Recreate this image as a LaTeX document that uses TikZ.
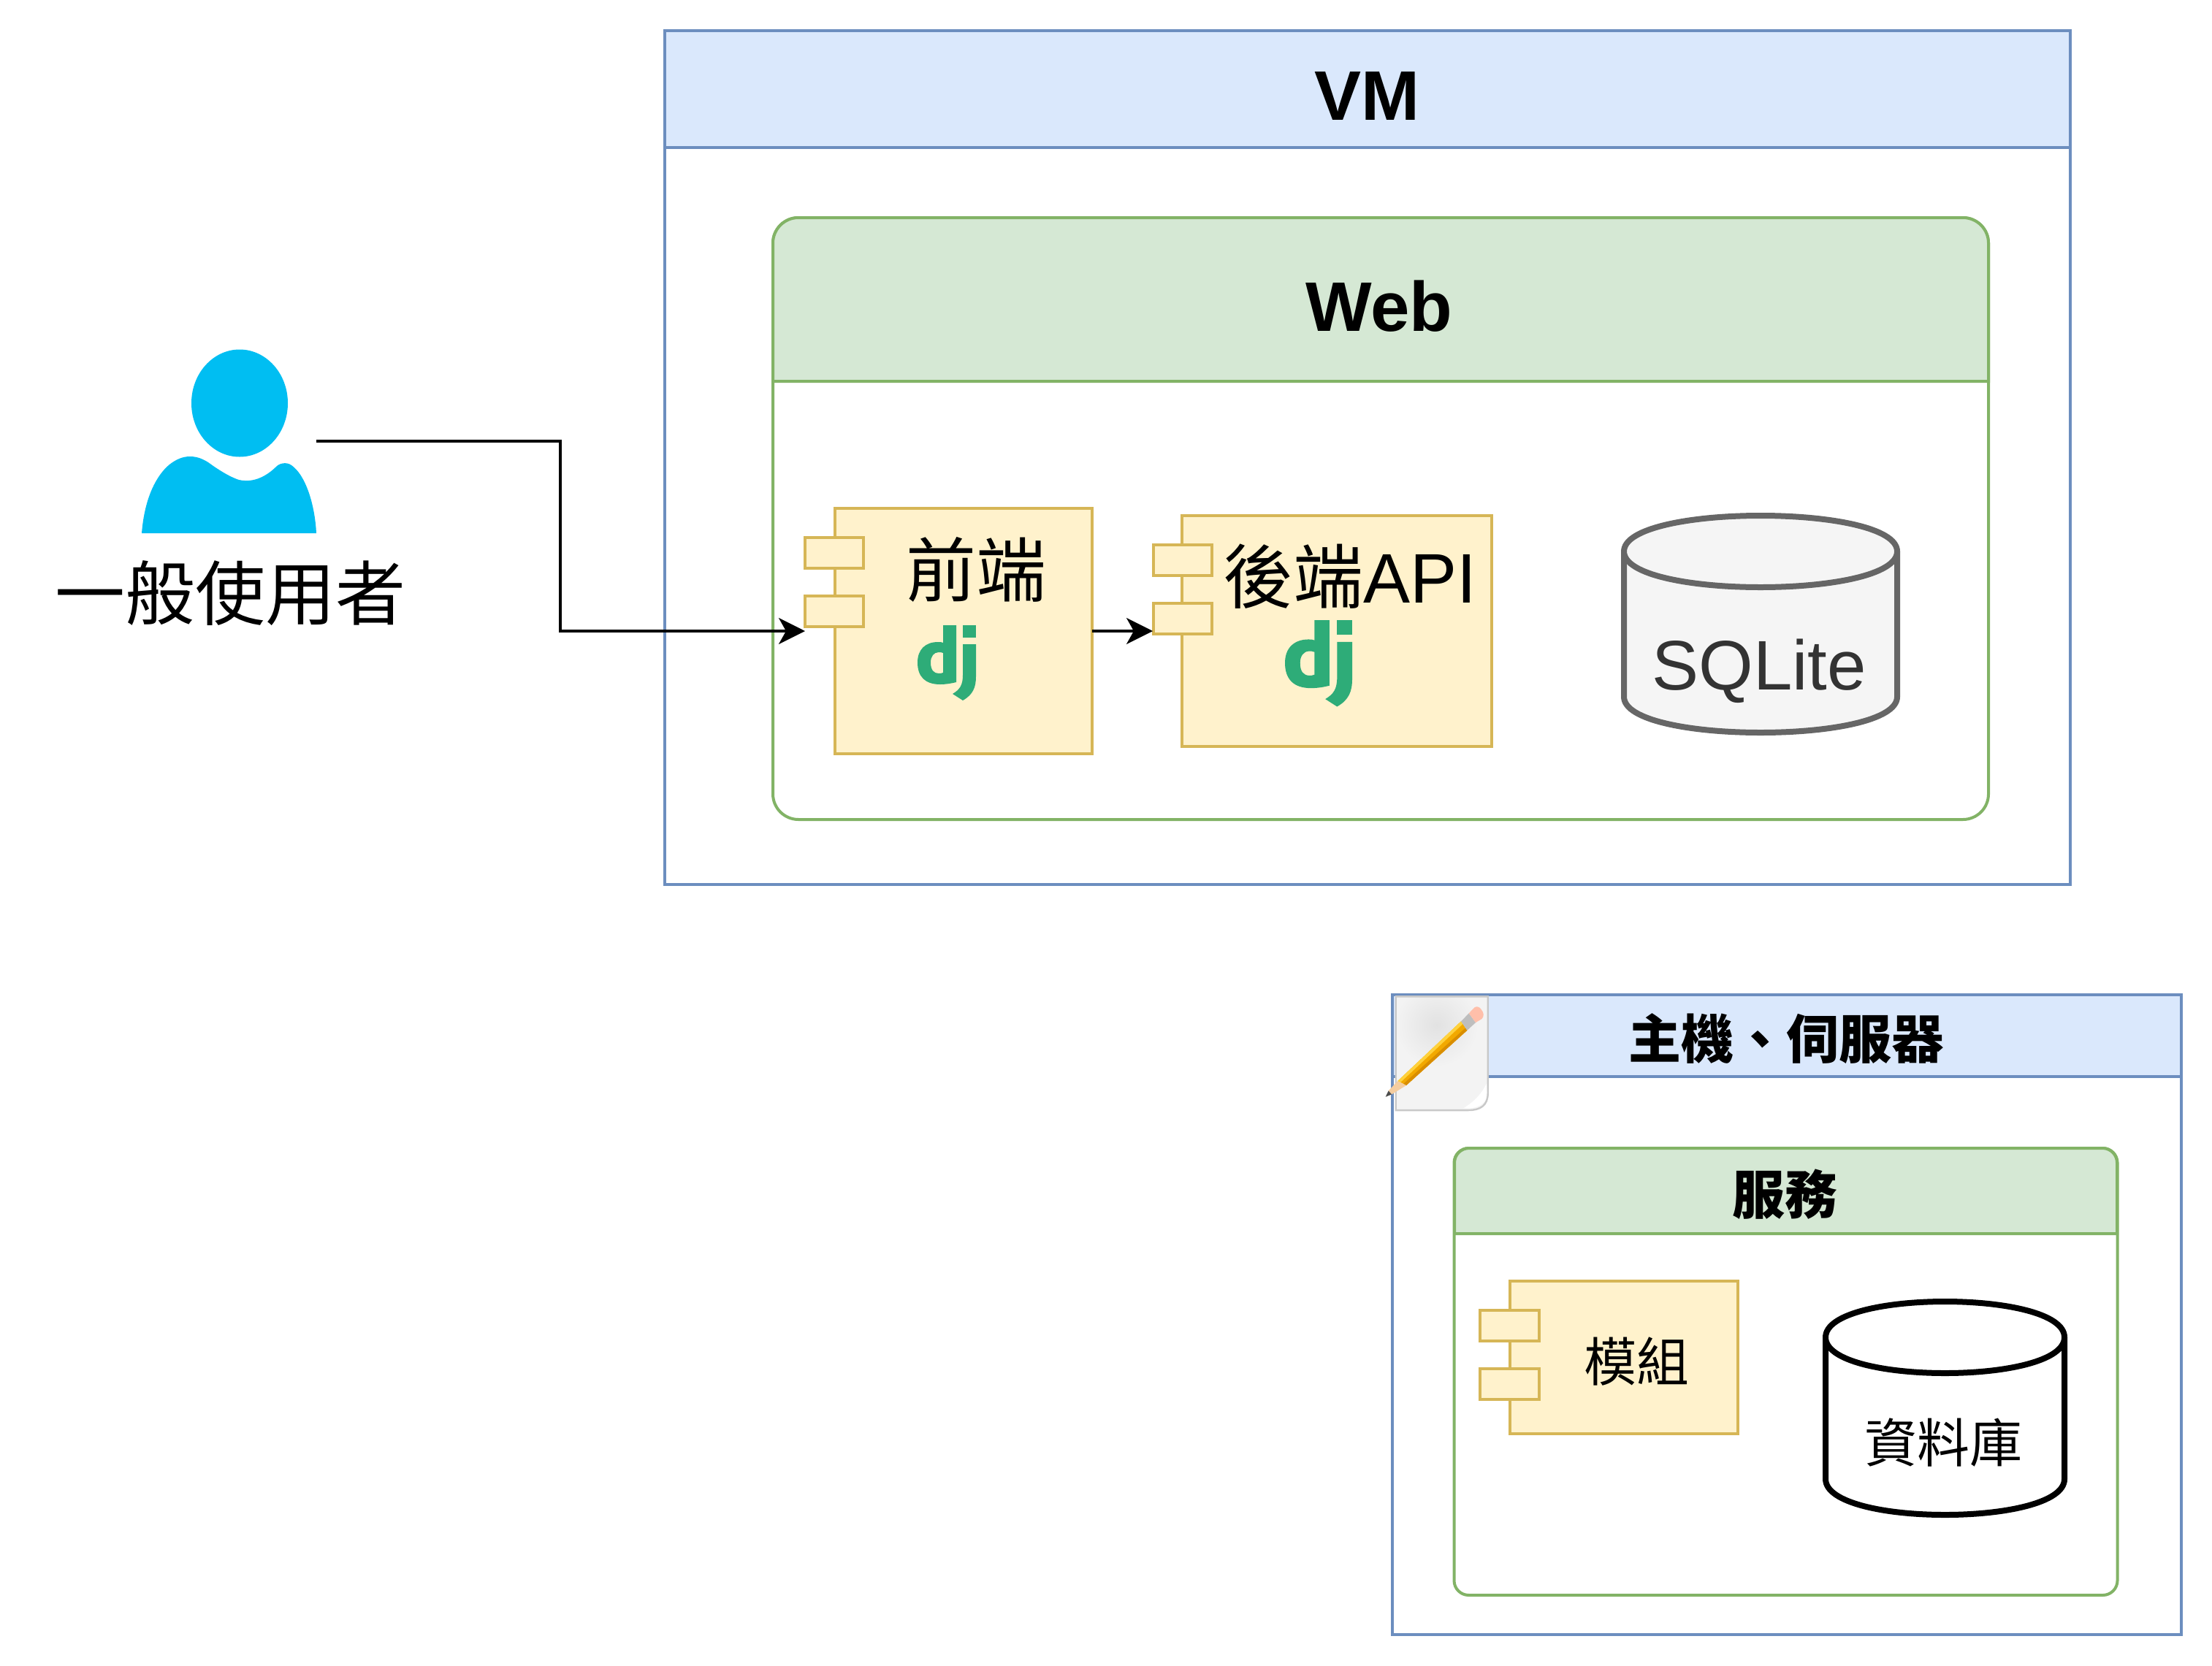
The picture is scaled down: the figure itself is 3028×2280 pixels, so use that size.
\documentclass[tikz,border=0pt]{standalone}
\usepackage{fontspec}
\setmainfont{Liberation Sans}
\newfontfamily\cjk{Noto Sans CJK TC}
\usetikzlibrary{arrows.meta}
\definecolor{bluefill}{HTML}{DAE8FC}
\definecolor{bluestroke}{HTML}{6C8EBF}
\definecolor{greenfill}{HTML}{D5E8D4}
\definecolor{greenstroke}{HTML}{82B366}
\definecolor{yellowfill}{HTML}{FFF2CC}
\definecolor{yellowstroke}{HTML}{D6B656}
\definecolor{grayfill}{HTML}{F5F5F5}
\definecolor{graystroke}{HTML}{666666}
\definecolor{graytext}{HTML}{333333}
\definecolor{personblue}{HTML}{00BEF2}
\definecolor{djgreen}{HTML}{2EAC78}
\definecolor{paper}{HTML}{F3F3F3}
\definecolor{papershade}{HTML}{E2E2E2}
\definecolor{paperedge}{HTML}{C8C8C8}
\definecolor{pencilbody}{HTML}{F2A900}
\definecolor{pencillight}{HTML}{FFD23C}
\definecolor{pencildark}{HTML}{D98E00}
\definecolor{ferrule}{HTML}{BEBEBE}
\definecolor{eraser}{HTML}{FFBFAA}
\definecolor{wood}{HTML}{F4CDA0}
\newcommand{\sizexl}{\fontsize{48}{48}\selectfont}
\newcommand{\sizelg}{\fontsize{36}{36}\selectfont}
\tikzset{
  sz/.style 2 args={minimum width=#1*0.5pt, minimum height=#2*0.5pt},
  plainnode/.style={inner sep=0pt, outer sep=0pt, line width=2pt},
  bluebox/.style={plainnode, rectangle, draw=bluestroke, fill=white},
  blueband/.style={plainnode, rectangle, draw=bluestroke, fill=bluefill},
  greenbox/.style={plainnode, rectangle, draw=greenstroke, fill=white},
  greenband/.style={draw=greenstroke, fill=greenfill, line width=2pt},
  compbody/.style={plainnode, rectangle, draw=yellowstroke, fill=yellowfill},
  txtlabel/.style={inner sep=0pt, outer sep=0pt, anchor=base, text=black},
  conn/.style={draw=black, line width=1.75pt, -{Stealth[length=18pt,width=18pt,inset=5pt]}},
  cylpath/.style={line width=4pt, line join=round},
  djlogo/.pic={
    \fill[djgreen, even odd rule]
      (35,0) -- (53,0) -- (53,78) .. controls (45,80) and (38,81) .. (31,81)
      .. controls (10,81) and (0,70) .. (0,51)
      .. controls (0,33) and (11,23) .. (28,23)
      .. controls (31,23) and (33,23) .. (35,24) -- cycle
      (35,38) .. controls (33,37) and (31,37) .. (29,37)
      .. controls (22,37) and (18,43) .. (18,51)
      .. controls (18,61) and (22,66) .. (29,66)
      .. controls (31,66) and (33,66) .. (35,65) -- cycle;
    \fill[djgreen] (62,0) rectangle (80,17);
    \fill[djgreen] (62,26) -- (80,26) -- (80,70)
      .. controls (80,85) and (76,95) .. (62,103) -- (48,94)
      .. controls (58,88) and (62,82) .. (62,68) -- cycle;
  },
}
\newcommand{\cyl}[6]{% left, top, right, bottom, dy, style
  \draw[cylpath,#6] (#1,#2+#5)
    .. controls (#1,#2+#5-#5*4/3) and (#3,#2+#5-#5*4/3) .. (#3,#2+#5)
    -- (#3,#4-#5)
    .. controls (#3,#4-#5+#5*4/3) and (#1,#4-#5+#5*4/3) .. (#1,#4-#5) -- cycle;
  \draw[cylpath,#6] (#1,#2+#5)
    .. controls (#1,#2+#5+#5*4/3) and (#3,#2+#5+#5*4/3) .. (#3,#2+#5);
}
\begin{document}
\begin{tikzpicture}[x=0.5pt,y=-0.5pt]
\useasboundingbox (0,0) rectangle (3028,2280);
\fill[white] (0,0) rectangle (3028,2280);

% VM container
\node[bluebox, sz={1924}{1169}] (vm) at (1872,626.5) {};
\node[blueband, sz={1924}{160}] (vmhead) at (1872,122) {};
\node[txtlabel] (vmtitle) at (1871,164) {\sizexl\bfseries VM};

% Web container
\node[greenbox, rounded corners=17.5pt, sz={1664}{824}] (web) at (1890,710) {};
\draw[greenband] (1058,522) [rounded corners=17.5pt] -- (1058,298) -- (2722,298) [sharp corners] -- (2722,522) -- cycle;
\node[txtlabel] (webtitle) at (1888,453) {\sizexl\bfseries Web};

% Front end component
\node[compbody, sz={352}{336}] (fe) at (1318.5,864) {};
\node[compbody, sz={80}{42}] (feport1) at (1142,756.5) {};
\node[compbody, sz={80}{42}] (feport2) at (1142,836.5) {};
\node[txtlabel] (fetext) at (1336,816) {\sizexl\cjk 前端};
\pic at (1256,856) {djlogo};

% Back end component
\node[compbody, sz={424}{316}] (be) at (1830,864) {};
\node[compbody, sz={80}{42}] (beport1) at (1618.5,767) {};
\node[compbody, sz={80}{42}] (beport2) at (1618.5,847) {};
\node[txtlabel] (betext) at (1848,825) {\sizexl{\cjk 後端}API};
\pic[scale=1.15] at (1759,849) {djlogo};

% SQLite cylinder
\cyl{2223}{706}{2597}{1003}{49}{draw=graystroke, fill=grayfill}
\node[txtlabel, text=graytext] (sqlite) at (2408,944) {\sizexl SQLite};

% User
\fill[personblue] (328,552) ellipse [x radius=66, y radius=73.5];
\fill[personblue] (194,730)
  .. controls (198,680) and (215,650) .. (232,636)
  .. controls (241,629) and (250,625) .. (260,625)
  .. controls (272,625) and (280,630) .. (285,633)
  .. controls (300,644) and (315,653) .. (327,657)
  .. controls (340,660) and (358,658) .. (377,640)
  .. controls (382,634) and (392,632) .. (399,637)
  .. controls (418,650) and (431,690) .. (433,730) -- cycle;
\coordinate (userport) at (433,604);
\node[txtlabel] (usertext) at (315,848) {\sizexl\cjk 一般使用者};

% Connectors
\coordinate (elbow) at (767,730);
\coordinate (fein) at (1102,864);
\coordinate (bein) at (1578,864);
\coordinate (feout) at (1495,864);
\draw[conn] (userport) -| (elbow) |- (fein);
\draw[conn] (feout) -- (bein);

% Host container
\node[bluebox, sz={1080}{876}] (host) at (2446,1800) {};
\node[blueband, sz={1080}{112}] (hosthead) at (2446,1418) {};
\node[txtlabel] (hosttitle) at (2445,1449) {\sizelg\bfseries\cjk 主機、伺服器};

% Services container
\node[greenbox, rounded corners=10pt, sz={908}{612}] (svc) at (2444.5,1878) {};
\draw[greenband] (1991,1689) [rounded corners=10pt] -- (1991,1572) -- (2898,1572) [sharp corners] -- (2898,1689) -- cycle;
\node[txtlabel] (svctitle) at (2443,1662) {\sizelg\bfseries\cjk 服務};

% Module component
\node[compbody, sz={312}{209}] (mod) at (2223,1858.5) {};
\node[compbody, sz={81}{42}] (modport1) at (2066.5,1815) {};
\node[compbody, sz={81}{42}] (modport2) at (2066.5,1894.5) {};
\node[txtlabel] (modtext) at (2240,1891) {\sizelg\cjk 模組};

% Database cylinder
\cyl{2499}{1782}{2826}{2074}{49}{draw=black, fill=white}
\node[txtlabel] (dbtext) at (2660,2002) {\sizelg\cjk 資料庫};

% Note icon
\begin{scope}[shift={(1880,1340)}, x=0.1667pt, y=-0.1667pt]
  \fill[paper] (92,73) -- (470,73) -- (470,470) .. controls (470,520) and (440,540) .. (390,540) -- (92,540) -- cycle;
  \begin{scope}
    \clip (92,73) rectangle (470,540);
    \shade[inner color=papershade, outer color=paper] (260,190) circle [radius=170];
  \end{scope}
  \fill[white] (370,532) .. controls (420,500) and (445,470) .. (465,430) -- (468,480) .. controls (460,515) and (430,535) .. (370,532) -- cycle;
  \draw[paperedge, line width=1.2pt] (92,73) -- (470,73) -- (470,470) .. controls (470,520) and (440,540) .. (390,540) -- (92,540) -- cycle;
  \fill[pencilbody] (100,420) -- (360,175) -- (385,212) -- (135,438) -- cycle;
  \fill[pencillight] (100,420) -- (360,175) -- (367,186) -- (110,427) -- cycle;
  \fill[pencildark] (122,433) -- (378,202) -- (385,212) -- (135,438) -- cycle;
  \fill[ferrule] (360,175) -- (392,142) -- (420,180) -- (385,212) -- cycle;
  \fill[eraser] (392,142) -- (415,118) .. controls (425,112) and (435,115) .. (442,125) .. controls (455,140) and (455,155) .. (445,165) -- (420,180) -- cycle;
  \fill[wood] (100,420) -- (135,438) -- (75,475) -- (62,460) -- cycle;
  \fill[black!70] (50,485) -- (62,460) -- (75,475) -- cycle;
\end{scope}
\end{tikzpicture}
\end{document}
